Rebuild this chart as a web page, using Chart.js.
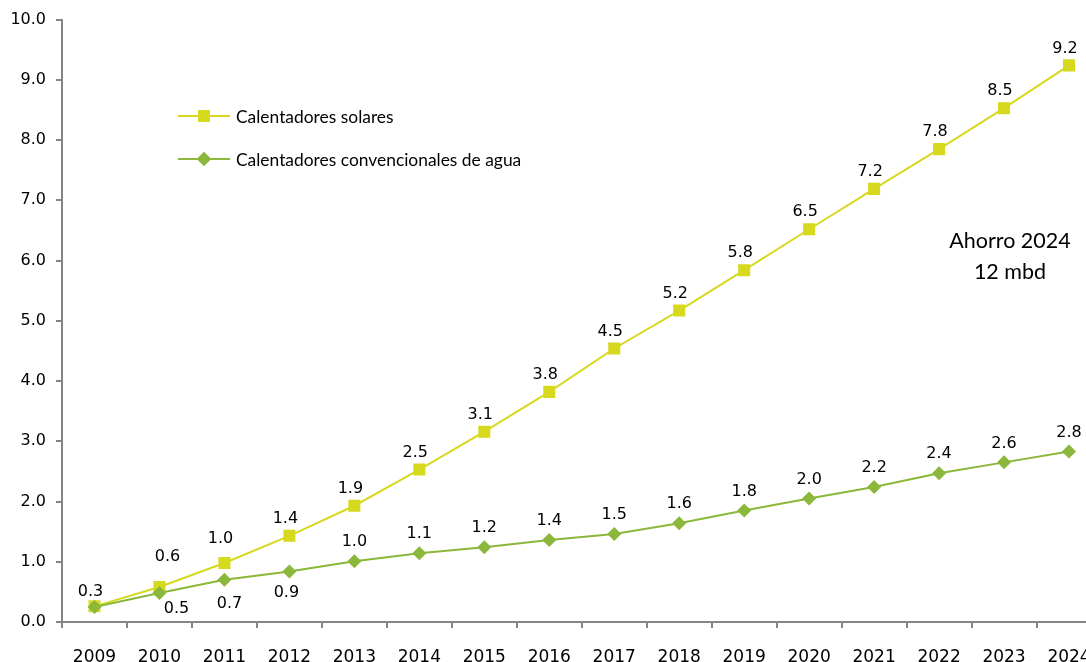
<!DOCTYPE html>
<html>
<head>
<meta charset="utf-8">
<script src="https://cdn.jsdelivr.net/npm/chart.js@4/dist/chart.umd.min.js"></script>
<style>
  html, body { margin: 0; padding: 0; background: #fff; overflow: hidden; }
  #wrap { width: 1110px; height: 662px; position: relative; }
</style>
</head>
<body>
<div id="wrap"><canvas id="chart"></canvas></div>
<script>
// ── data ──
const years = ['2009','2010','2011','2012','2013','2014','2015','2016','2017','2018','2019','2020','2021','2022','2023','2024'];
const solares      = [0.26, 0.58, 0.98, 1.43, 1.93, 2.53, 3.16, 3.82, 4.54, 5.17, 5.84, 6.52, 7.19, 7.85, 8.53, 9.24];
const convencional = [0.25, 0.48, 0.70, 0.84, 1.01, 1.14, 1.24, 1.36, 1.46, 1.64, 1.85, 2.05, 2.24, 2.47, 2.65, 2.83];
const solaresLbl      = ['0.3','0.6','1.0','1.4','1.9','2.5','3.1','3.8','4.5','5.2','5.8','6.5','7.2','7.8','8.5','9.2'];
const convencionalLbl = [null,'0.5','0.7','0.9','1.0','1.1','1.2','1.4','1.5','1.6','1.8','2.0','2.2','2.4','2.6','2.8'];
const yTicks = [0,1,2,3,4,5,6,7,8,9,10];
const note = ['Ahorro 2024', '12 mbd'];

const YELLOW = '#D6D91E';
const GREEN  = '#8BB73A';
const AXIS   = '#858585';
const INK    = '#000';
const tickFont = { family: "'DejaVu Sans', sans-serif", size: 16 };

// value labels next to each point
const valueLabels = {
  id: 'valueLabels',
  afterDatasetsDraw(chart) {
    const { ctx } = chart;
    ctx.save();
    ctx.font = "16px 'DejaVu Sans', sans-serif";
    ctx.fillStyle = INK;
    ctx.textAlign = 'center';
    ctx.textBaseline = 'middle';
    chart.data.datasets.forEach((ds, di) => {
      const meta = chart.getDatasetMeta(di);
      meta.data.forEach((pt, i) => {
        const txt = ds.valueLabels[i];
        if (!txt) return;
        let dx = -4, dy = -17;
        if (di === 0 && i === 0) dy = -14;
        if (di === 0 && i === 1) { dx = 8; dy = -30; }
        if (di === 0 && i === 2) dy = -24;
        if (di === 1) { dx = 0; dy = -19; }
        if (di === 1 && i === 1) { dx = 17; dy = 16; }
        if (di === 1 && i === 2) { dx = 5; dy = 24; }
        if (di === 1 && i === 3) { dx = -3; dy = 21; }
        ctx.fillText(txt, pt.x + dx, pt.y + dy);
      });
    });
    ctx.restore();
  }
};

// legend inside the plot, plus the savings note
const innerLegend = {
  id: 'innerLegend',
  afterDraw(chart) {
    const { ctx } = chart;
    ctx.save();
    chart.data.datasets.forEach((ds, di) => {
      const y = 116 + di * 43;
      ctx.strokeStyle = ds.borderColor;
      ctx.lineWidth = 2;
      ctx.beginPath(); ctx.moveTo(178, y); ctx.lineTo(230, y); ctx.stroke();
      ctx.fillStyle = ds.borderColor;
      ctx.beginPath();
      Chart.helpers.drawPoint(ctx, { pointStyle: ds.pointStyle, radius: ds.pointRadius, borderWidth: 0 }, 204, y);
      ctx.fill();
      ctx.fillStyle = INK;
      ctx.font = "17.4px Lato, 'Open Sans', sans-serif";
      ctx.textAlign = 'left';
      ctx.textBaseline = 'middle';
      ctx.fillText(ds.label, 236, y + 1);
    });
    ctx.font = "21.5px Lato, 'Open Sans', sans-serif";
    ctx.textAlign = 'center';
    ctx.fillText(note[0], 1010, 241);
    ctx.fillText(note[1], 1010, 272);
    ctx.restore();
  }
};

new Chart(document.getElementById('chart').getContext('2d'), {
  type: 'line',
  data: {
    labels: years,
    datasets: [
      {
        label: 'Calentadores solares',
        data: solares,
        valueLabels: solaresLbl,
        borderColor: YELLOW,
        backgroundColor: YELLOW,
        borderWidth: 2,
        pointStyle: 'rect',
        pointRadius: 8.5,
        pointBorderWidth: 0,
        tension: 0,
        order: 1,
      },
      {
        label: 'Calentadores convencionales de agua',
        data: convencional,
        valueLabels: convencionalLbl,
        borderColor: GREEN,
        backgroundColor: GREEN,
        borderWidth: 2,
        pointStyle: 'rectRot',
        pointRadius: 7,
        pointBorderWidth: 0,
        tension: 0,
        order: 0,
      },
    ],
  },
  options: {
    responsive: true,
    maintainAspectRatio: false,
    animation: false,
    layout: { padding: { top: 18, right: 8, left: 0, bottom: 0 } },
    plugins: { legend: { display: false }, tooltip: { enabled: false } },
    scales: {
      x: {
        offset: true,
        grid: { display: true, offset: true, drawOnChartArea: false, drawTicks: true, tickLength: 6, color: AXIS, lineWidth: 2 },
        border: { display: true, color: AXIS, width: 2 },
        ticks: { font: { ...tickFont, size: 17 }, color: INK, padding: 19, maxRotation: 0, autoSkip: false },
        afterFit: s => { s.height = 40; },
      },
      y: {
        min: 0,
        max: 10,
        afterBuildTicks: s => { s.ticks = yTicks.map(v => ({ value: v })); },
        grid: { display: true, drawOnChartArea: false, drawTicks: true, tickLength: 6, color: AXIS, lineWidth: 2 },
        border: { display: true, color: AXIS, width: 2 },
        ticks: { font: tickFont, color: INK, padding: 10, callback: v => v.toFixed(1) },
        afterFit: s => { s.width = 62; },
      },
    },
  },
  plugins: [valueLabels, innerLegend],
});
</script>
</body>
</html>
